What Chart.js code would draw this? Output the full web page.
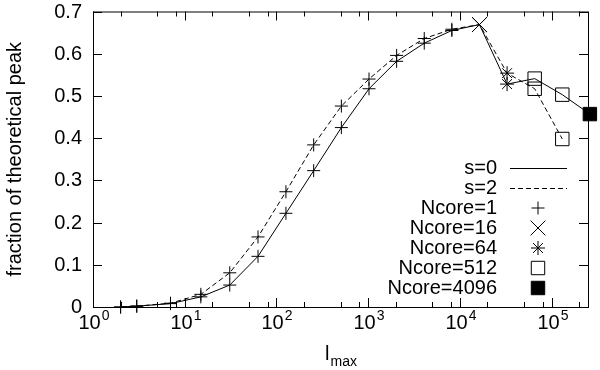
<!DOCTYPE html>
<html>
<head>
<meta charset="utf-8">
<script src="https://cdn.jsdelivr.net/npm/chart.js@4/dist/chart.umd.min.js"></script>
<style>
  html,body{margin:0;padding:0;background:#fff}
  canvas{display:block}
</style>
</head>
<body>
<canvas id="c" width="600" height="370"></canvas>
<script>
// data
const lmax   = [2, 3, 7, 15, 31, 63, 127, 255, 511, 1023, 2047, 4095, 8191, 16383, 32767, 65535, 131071, 262143];
const fracS0 = [0, 0.002, 0.008, 0.024, 0.052, 0.120, 0.222, 0.323, 0.425, 0.517, 0.582, 0.625, 0.655, 0.669, 0.528, 0.541, 0.503, 0.457];
const fracS2 = [0, 0.002, 0.009, 0.030, 0.081, 0.166, 0.273, 0.384, 0.476, 0.540, 0.596, 0.636, 0.658, 0.669, 0.554, 0.517, 0.398, null];
const ncore  = [1, 1, 1, 1, 1, 1, 1, 1, 1, 1, 1, 1, 1, 16, 64, 512, 512, 4096];
const ncoreGroups = [1, 16, 64, 512, 4096];
const lineLabels = ['s=0', 's=2'];
const xTickExps = [0, 1, 2, 3, 4, 5];
const xMinorMult = [2, 5, 8];
const yTicks = [0, 0.1, 0.2, 0.3, 0.4, 0.5, 0.6, 0.7];
const yTickLabels = ['0', '0.1', '0.2', '0.3', '0.4', '0.5', '0.6', '0.7'];

const FONT = '"Liberation Sans", Arial, Helvetica, sans-serif';
const markerStyle = {
  1:    {pointStyle:'cross',    radius:6.5, fill:'rgba(0,0,0,0)'},
  16:   {pointStyle:'crossRot', radius:10.5, fill:'rgba(0,0,0,0)'},
  64:   {pointStyle:'star',     radius:7,   fill:'rgba(0,0,0,0)'},
  512:  {pointStyle:'rect',     radius:9.5, fill:'rgba(0,0,0,0)'},
  4096: {pointStyle:'rect',     radius:9.5, fill:'#000'}
};

function pts(ys){ return lmax.map((x,i)=>({x, y:ys[i]})).filter(p=>p.y!==null) }

const datasets = [
  {label:lineLabels[0], data:pts(fracS0), showLine:true, pointRadius:0, borderColor:'#000', borderWidth:1, clip:false},
  {label:lineLabels[1], data:pts(fracS2), showLine:true, pointRadius:0, borderColor:'#000', borderWidth:1, borderDash:[5,3], clip:false}
];
ncoreGroups.forEach(g=>{
  const d = [];
  lmax.forEach((x,i)=>{ if(ncore[i]!==g) return; [fracS0[i], fracS2[i]].forEach(v=>{ if(v!==null) d.push({x, y:v}) }) });
  const m = markerStyle[g];
  datasets.push({label:'Ncore='+g, data:d, showLine:false, pointStyle:m.pointStyle, pointRadius:m.radius,
    pointBorderColor:'#000', pointBackgroundColor:m.fill, pointBorderWidth:1, borderColor:'#000', backgroundColor:m.fill, clip:false});
});

// gnuplot-like frame: inward ticks, labels, legend
const frame = {
  id:'frame',
  afterDatasetsDraw(chart){
    const {ctx, chartArea:a, scales:{x, y}} = chart;
    ctx.save();
    ctx.strokeStyle='#000'; ctx.fillStyle='#000'; ctx.lineWidth=1; ctx.setLineDash([]);
    ctx.strokeRect(a.left+0.5, a.top+0.5, a.right-a.left, a.bottom-a.top);
    const seg=(x1,y1,x2,y2)=>{ ctx.beginPath(); ctx.moveTo(x1,y1); ctx.lineTo(x2,y2); ctx.stroke(); };
    // y ticks
    ctx.font='20px '+FONT; ctx.textAlign='right'; ctx.textBaseline='middle';
    yTicks.forEach((v,i)=>{
      const py = Math.round(y.getPixelForValue(v))+0.5;
      seg(a.left, py, a.left+9, py); seg(a.right, py, a.right-9, py);
      ctx.fillText(yTickLabels[i], a.left-11, py);
    });
    // x ticks
    xTickExps.forEach(e=>{
      const px = Math.round(x.getPixelForValue(Math.pow(10,e)))+0.5;
      seg(px, a.bottom, px, a.bottom-9); seg(px, a.top, px, a.top+9);
      xMinorMult.forEach(m=>{
        const v = m*Math.pow(10,e); if(v>x.max) return;
        const q = Math.round(x.getPixelForValue(v))+0.5;
        seg(q, a.bottom, q, a.bottom-5); seg(q, a.top, q, a.top+5);
      });
      ctx.textBaseline='alphabetic'; ctx.textAlign='left';
      ctx.font='20px '+FONT; const wb = ctx.measureText('10').width;
      ctx.font='14px '+FONT; const we = ctx.measureText(String(e)).width;
      const sx = px-(wb+we)/2;
      ctx.font='20px '+FONT; ctx.fillText('10', sx, a.bottom+22);
      ctx.font='14px '+FONT; ctx.fillText(String(e), sx+wb+1, a.bottom+13);
    });
    // axis titles
    ctx.textAlign='left'; ctx.textBaseline='alphabetic';
    ctx.font='20px '+FONT; const wl = ctx.measureText('l').width;
    ctx.font='14px '+FONT; const wm = ctx.measureText('max').width;
    const tx = (a.left+a.right)/2-(wl+wm)/2;
    ctx.font='20px '+FONT; ctx.fillText('l', tx, 360);
    ctx.font='14px '+FONT; ctx.fillText('max', tx+wl+1, 366);
    ctx.save(); ctx.translate(21,(a.top+a.bottom)/2); ctx.rotate(-Math.PI/2);
    ctx.font='20px '+FONT; ctx.textAlign='center'; ctx.fillText('fraction of theoretical peak', 0, 0); ctx.restore();
    // legend
    chart.data.datasets.forEach((ds,i)=>{
      const ry = 168 + i*20;
      ctx.font='20px '+FONT; ctx.textAlign='right'; ctx.textBaseline='middle'; ctx.fillStyle='#000';
      ctx.fillText(ds.label, 497, ry);
      if(ds.showLine){ ctx.setLineDash(ds.borderDash||[]); seg(510, ry+0.5, 567, ry+0.5); ctx.setLineDash([]); }
      else { ctx.fillStyle=ds.pointBackgroundColor; ctx.strokeStyle='#000';
        Chart.helpers.drawPoint(ctx, {pointStyle:ds.pointStyle, radius:ds.pointRadius, rotation:0, borderWidth:1}, 538, ry);
        ctx.fillStyle='#000'; }
    });
    ctx.restore();
  }
};

new Chart(document.getElementById('c'), {
  type:'scatter',
  data:{datasets},
  options:{
    responsive:false, animation:false,
    layout:{padding:{left:93, right:12, top:10, bottom:63}},
    scales:{
      x:{type:'logarithmic', min:1, max:250000, display:false},
      y:{type:'linear', min:0, max:0.7, display:false}
    },
    plugins:{legend:{display:false}, tooltip:{enabled:false}}
  },
  plugins:[frame]
});
</script>
</body>
</html>
